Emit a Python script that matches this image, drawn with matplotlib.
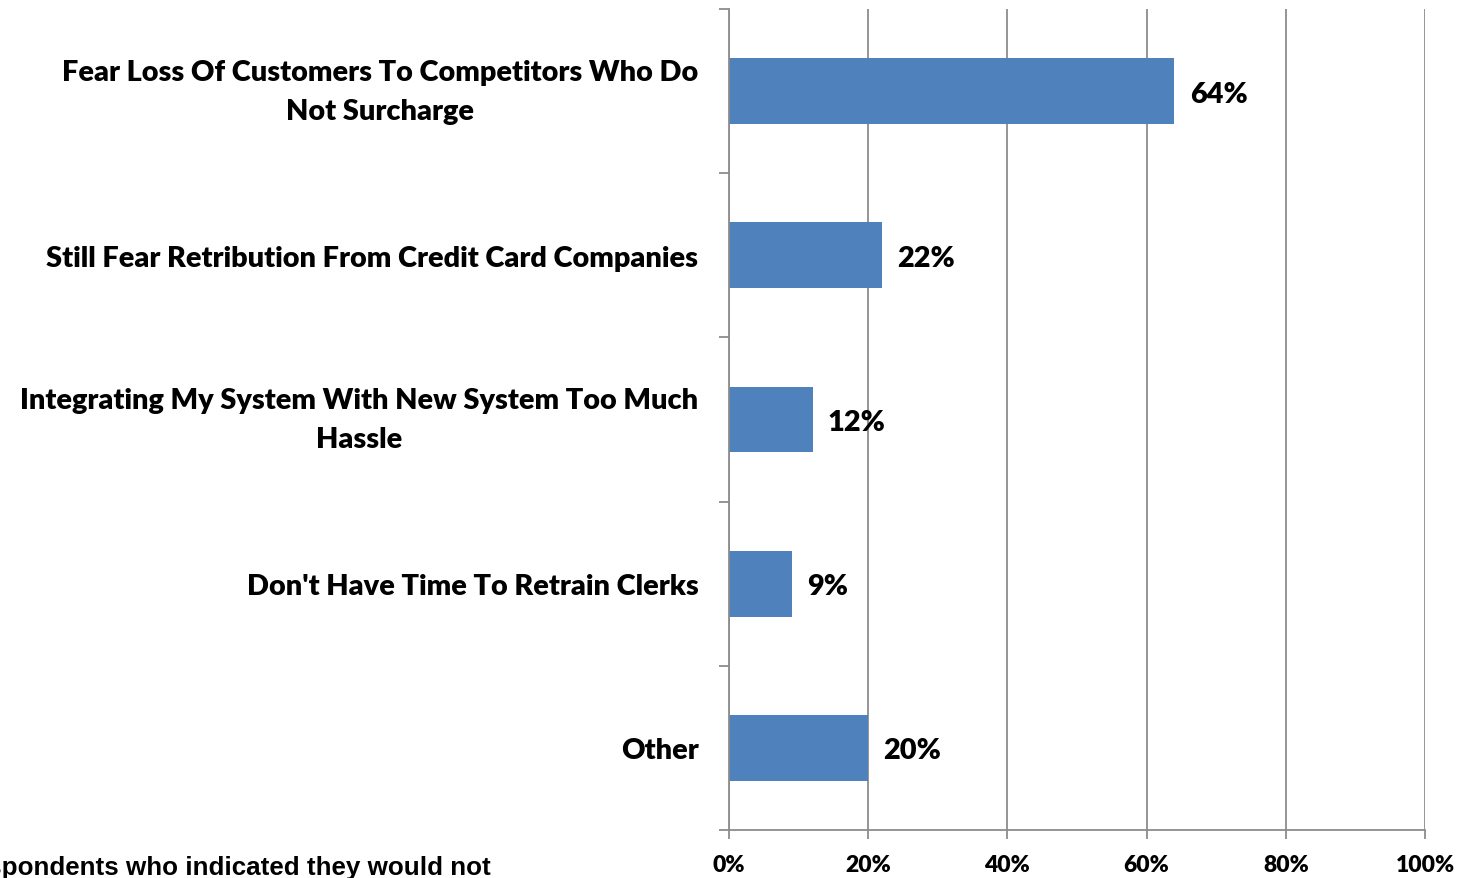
import matplotlib
matplotlib.use("Agg")
import matplotlib.pyplot as plt
from matplotlib.ticker import FixedLocator, PercentFormatter

categories = [
    "Fear Loss Of Customers To Competitors Who Do\nNot Surcharge",
    "Still Fear Retribution From Credit Card Companies",
    "Integrating My System With New System Too Much\nHassle",
    "Don't Have Time To Retrain Clerks",
    "Other",
]
values = [64, 22, 12, 9, 20]
x_ticks = [0, 20, 40, 60, 80, 100]
footnote = "Respondents who indicated they would not"

BAR = "#4F81BD"
GRID = "#8C8C8C"
WEIGHT = "heavy"

plt.rcParams["font.family"] = ["Lato", "DejaVu Sans"]

fig = plt.figure(figsize=(14.6, 8.79), dpi=100)
ax = fig.add_axes([729 / 1460, 1 - 831 / 879, (1425 - 729) / 1460, (831 - 10) / 879])

pos = list(range(len(categories)))
ax.barh(pos, values, height=0.4, color=BAR, zorder=3)
ax.set_xlim(0, 100)
ax.set_ylim(len(categories) - 0.5, -0.5)

for p, v in zip(pos, values):
    ax.annotate(f"{v}%", (v, p), xytext=(11, 0), textcoords="offset points",
                ha="left", va="center_baseline", fontsize=20.8, fontweight=WEIGHT,
                zorder=4)

# category labels sit on minor ticks, tick marks sit on category boundaries
ax.yaxis.set_major_locator(FixedLocator([i - 0.5 for i in range(len(categories) + 1)]))
ax.yaxis.set_minor_locator(FixedLocator(pos))
ax.set_yticklabels([], minor=False)
ax.set_yticklabels(categories, minor=True, fontsize=20.8, fontweight=WEIGHT,
                   multialignment="center", linespacing=1.62)
for lbl in ax.get_yticklabels(minor=True):
    if "\n" in lbl.get_text():
        lbl.set_verticalalignment("center")
ax.tick_params(axis="y", which="major", length=7, width=1.3, color=GRID)
ax.tick_params(axis="y", which="minor", length=0, pad=22)

ax.set_xticks(x_ticks)
ax.xaxis.set_major_formatter(PercentFormatter(decimals=0))
ax.tick_params(axis="x", length=6.5, width=1.3, color=GRID, pad=11)
for lbl in ax.get_xticklabels():
    lbl.set_fontsize(16.5)
    lbl.set_fontweight(WEIGHT)

ax.grid(axis="x", color=GRID, linewidth=1.3, zorder=0)
for side in ("top", "right"):
    ax.spines[side].set_visible(False)
for side in ("left", "bottom"):
    ax.spines[side].set_color(GRID)
    ax.spines[side].set_linewidth(1.3)
    ax.spines[side].set_zorder(5)

fig.text(491 / 1460, 1 - 868 / 879, footnote, ha="right", va="center",
         fontsize=18.7, fontweight="bold", family=["Liberation Sans", "DejaVu Sans"])

fig.savefig("out.png", dpi=100, facecolor="white")
